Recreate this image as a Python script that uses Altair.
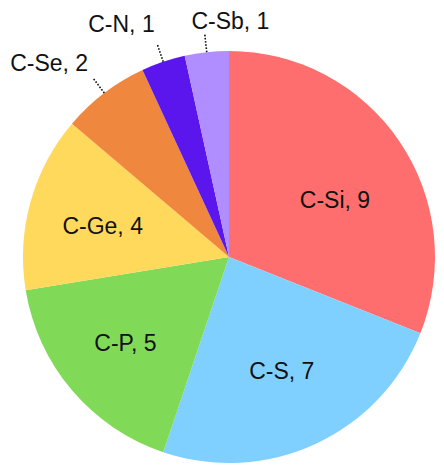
import altair as alt
import pandas as pd

labels = ["C-Si", "C-S", "C-P", "C-Ge", "C-Se", "C-N", "C-Sb"]
values = [9, 7, 5, 4, 2, 1, 1]
colors = ["#FF6E6E", "#80D0FF", "#80D957", "#FFD95C", "#F0873E", "#5A16EC", "#B08EFF"]

df = pd.DataFrame({
    "label": labels,
    "value": values,
    "idx": list(range(len(labels))),
})
df["text"] = [f"{l}, {v}" for l, v in zip(labels, values)]

W, H = 428, 456
CX, CY, R = 221, 249, 206
R_LEAD = 225

# label placement style: (radius, dx, dy)
place = {
    "C-Si": (128, 0, 16),
    "C-S": (128, -1, -1),
    "C-P": (128, -6, 4),
    "C-Ge": (128, -3, 4),
    "C-Se": (246, -31, 3),
    "C-N": (246, -29, 1),
    "C-Sb": (246, 28, 10),
}
outside = ["C-Se", "C-N", "C-Sb"]

base = alt.Chart(df)

pie = base.mark_arc(radius=R, stroke=None).encode(
    theta=alt.Theta("value:Q", stack=True),
    order=alt.Order("idx:Q"),
    color=alt.Color("label:N", scale=alt.Scale(domain=labels, range=colors), legend=None),
    x=alt.value(CX),
    y=alt.value(CY),
)

angles = base.transform_window(
    cum="sum(value)", sort=[alt.SortField("idx")], frame=[None, 0]
).transform_joinaggregate(
    total="sum(value)"
).transform_calculate(
    mid="(datum.cum - datum.value/2) / datum.total * 2 * PI"
)

layers = [pie]

rules = angles.transform_filter(
    alt.FieldOneOfPredicate(field="label", oneOf=outside)
).transform_calculate(
    x1=f"{CX} + {R} * sin(datum.mid)",
    y1=f"{CY} - {R} * cos(datum.mid)",
    x2=f"{CX} + {R_LEAD} * sin(datum.mid)",
    y2=f"{CY} - {R_LEAD} * cos(datum.mid)",
).mark_rule(color="#111111", strokeWidth=1.6, strokeDash=[1.6, 1.6]).encode(
    x=alt.X("x1:Q", scale=None, axis=None),
    y=alt.Y("y1:Q", scale=None, axis=None),
    x2="x2:Q",
    y2="y2:Q",
)
layers.append(rules)

for lab in labels:
    r, dx, dy = place[lab]
    t = angles.transform_filter(
        alt.datum.label == lab
    ).transform_calculate(
        tx=f"{CX} + {r} * sin(datum.mid)",
        ty=f"{CY} - {r} * cos(datum.mid)",
    ).mark_text(
        font="Liberation Sans", fontSize=23, color="#111111",
        align="center", baseline="middle", dx=dx, dy=dy,
    ).encode(
        x=alt.X("tx:Q", scale=None, axis=None),
        y=alt.Y("ty:Q", scale=None, axis=None),
        text="text:N",
    )
    layers.append(t)

chart = alt.layer(*layers).properties(
    width=W, height=H, autosize=alt.AutoSizeParams(type="none"), padding=0
).configure_view(stroke=None)

chart.save("out.html", embed_options={"renderer": "svg", "actions": False})
